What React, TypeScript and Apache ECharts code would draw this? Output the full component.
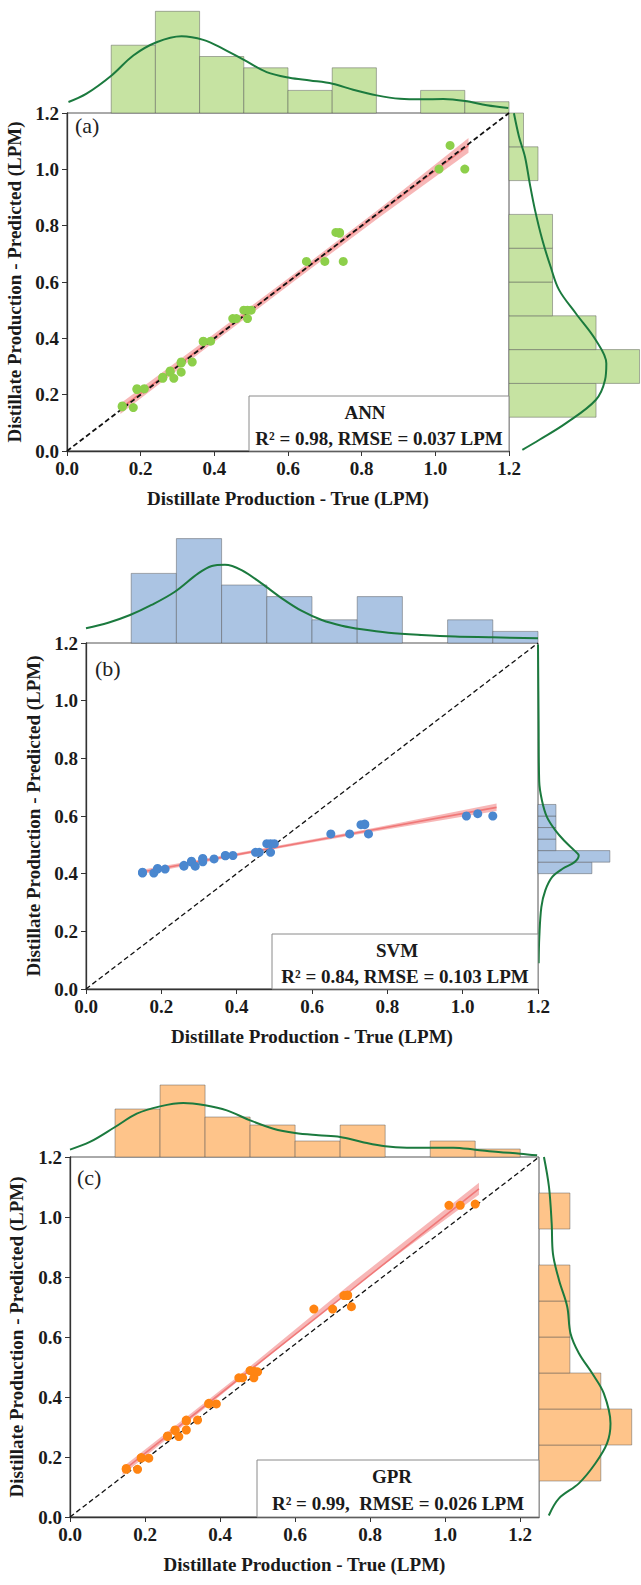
import React, { useEffect, useRef } from "react";
import * as echarts from "echarts";

// ---------- data ----------
const trueVals = [0.15, 0.15, 0.18, 0.19, 0.19, 0.21, 0.26, 0.26, 0.28, 0.28, 0.29, 0.31, 0.31, 0.31, 0.34, 0.37, 0.37, 0.39, 0.45, 0.46, 0.48, 0.49, 0.49, 0.5, 0.65, 0.7, 0.73, 0.74, 0.74, 0.75, 1.01, 1.04, 1.08];
const annPred = [0.157, 0.16, 0.154, 0.221, 0.218, 0.221, 0.258, 0.262, 0.284, 0.28, 0.258, 0.316, 0.28, 0.312, 0.316, 0.39, 0.388, 0.39, 0.47, 0.47, 0.5, 0.47, 0.5, 0.5, 0.673, 0.673, 0.776, 0.776, 0.773, 0.673, 1.001, 1.085, 1.001];
const svmPred = [0.402, 0.405, 0.402, 0.416, 0.418, 0.416, 0.426, 0.429, 0.44, 0.443, 0.426, 0.451, 0.441, 0.453, 0.451, 0.463, 0.462, 0.463, 0.474, 0.474, 0.504, 0.474, 0.504, 0.504, 0.538, 0.538, 0.57, 0.57, 0.572, 0.538, 0.6, 0.608, 0.6];
const gprPred = [0.159, 0.162, 0.159, 0.196, 0.198, 0.196, 0.268, 0.27, 0.29, 0.288, 0.268, 0.323, 0.29, 0.32, 0.323, 0.377, 0.379, 0.377, 0.464, 0.464, 0.488, 0.464, 0.486, 0.484, 0.693, 0.693, 0.738, 0.738, 0.74, 0.701, 1.039, 1.039, 1.043];

const tickVals = [0, 0.2, 0.4, 0.6, 0.8, 1.0, 1.2];

const trueBinEdges = [0.12, 0.24, 0.36, 0.48, 0.6, 0.72, 0.84, 0.96, 1.08, 1.2];
const trueCounts = [6, 9, 5, 4, 2, 4, 0, 2, 1];
const annBinEdges = [0.12, 0.24, 0.36, 0.48, 0.6, 0.72, 0.84, 0.96, 1.08, 1.2];
const annCounts = [6, 9, 6, 3, 3, 3, 0, 2, 1];
const svmBinEdges = [0.4, 0.44, 0.48, 0.52, 0.56, 0.6, 0.64];
const svmCounts = [9, 12, 3, 3, 3, 3];
const gprBinEdges = [0.12, 0.24, 0.36, 0.48, 0.6, 0.72, 0.84, 0.96, 1.08];
const gprCounts = [6, 9, 6, 3, 3, 3, 0, 3];

// density curves (x, height in count units) / (width in count units, y)
const kdeTopA = [[0.004, 0.97], [0.053, 1.71], [0.121, 3.32], [0.18, 5.09], [0.243, 6.26], [0.311, 6.79], [0.37, 6.47], [0.424, 5.68], [0.483, 4.65], [0.542, 3.62], [0.604, 3.12], [0.66, 2.88], [0.721, 2.59], [0.777, 2.06], [0.841, 1.56], [0.904, 1.26], [0.963, 1.21], [1.022, 1.24], [1.081, 1.06], [1.14, 0.68], [1.198, 0.44]];
const kdeRightA = [[0.34, 1.199], [0.69, 1.116], [1.1, 1.045], [1.43, 0.95], [1.79, 0.856], [2.3, 0.749], [2.87, 0.654], [3.45, 0.572], [4.6, 0.489], [5.98, 0.394], [6.71, 0.311], [6.62, 0.252], [5.98, 0.181], [3.91, 0.098], [2.07, 0.039], [0.92, 0.004]];
const kdeTopB = [[0.0, 1.27], [0.059, 1.75], [0.117, 2.41], [0.174, 3.28], [0.236, 4.42], [0.298, 6.0], [0.334, 6.64], [0.369, 6.75], [0.413, 6.29], [0.466, 5.14], [0.52, 3.85], [0.573, 2.76], [0.626, 1.98], [0.679, 1.49], [0.732, 1.18], [0.803, 0.89], [0.891, 0.69], [0.98, 0.55], [1.077, 0.49], [1.2, 0.4]];
const kdeRightB = [[0, 1.195], [0.1, 0.93], [0.2, 0.72], [0.67, 0.653], [1.5, 0.596], [2.9, 0.55], [4.35, 0.515], [6.1, 0.48], [6.8, 0.463], [6.1, 0.44], [4.1, 0.417], [2.35, 0.388], [1.22, 0.342], [0.56, 0.284], [0.22, 0.181], [0.11, 0.089]];
const kdeTopC = [[0.0, 0.92], [0.053, 1.88], [0.12, 3.75], [0.178, 5.42], [0.24, 6.33], [0.302, 6.75], [0.36, 6.46], [0.418, 5.83], [0.48, 4.58], [0.542, 3.54], [0.6, 3.0], [0.662, 2.71], [0.72, 2.5], [0.778, 1.88], [0.84, 1.33], [0.898, 1.17], [0.96, 1.17], [1.022, 1.17], [1.08, 0.92], [1.142, 0.63], [1.2, 0.42], [1.245, 0.21]];
const kdeRightC = [[0.48, 1.2], [0.97, 1.1], [1.23, 0.979], [1.35, 0.879], [1.94, 0.79], [2.74, 0.701], [3.06, 0.612], [3.87, 0.546], [5.16, 0.479], [6.29, 0.412], [6.94, 0.312], [6.61, 0.246], [5.48, 0.179], [3.87, 0.112], [1.94, 0.062], [0.95, 0.005]];

// regression fit lines and confidence bands
const regA = [[0.145, 0.15], [1.09, 1.085]];
const bandXA = [0.145, 0.4, 0.62, 0.85, 1.09];
const bandLoA = [0.131, 0.388, 0.606, 0.832, 1.059];
const bandHiA = [0.169, 0.416, 0.632, 0.862, 1.111];
const regB = [[0.148, 0.406], [1.09, 0.63]];
const bandXB = [0.148, 0.45, 0.75, 1.09];
const bandLoB = [0.398, 0.473, 0.543, 0.617];
const bandHiB = [0.414, 0.483, 0.555, 0.643];
const regC = [[0.14, 0.153], [1.09, 1.094]];
const bandXC = [0.14, 0.45, 0.75, 1.09];
const bandLoC = [0.14, 0.455, 0.761, 1.074];
const bandHiC = [0.166, 0.471, 0.779, 1.114];

const diagAB = [[0, 0], [1.2, 1.2]];
const diagC = [[0, 0], [1.25, 1.2]];

const xTitle = "Distillate Production - True (LPM)";
const yTitle = "Distillate Production - Predicted (LPM)";

// ---------- layout / style ----------
const FONT = "'Liberation Serif','Times New Roman',serif";
const KDE_COLOR = "#1b7a3e";

const panels = [
  {
    tag: "(a)", model: "ANN", stats: "R² = 0.98, RMSE = 0.037 LPM",
    pred: annPred, xMax: 1.2, diag: diagAB, diagW: 1.8, nameGapY: 38,
    main: { left: 67, top: 113, width: 442, height: 338 },
    topH: 113, topMax: 10, rightW: 132, rightMax: 9.1,
    topEdges: trueBinEdges, topCounts: trueCounts, rightEdges: annBinEdges, rightCounts: annCounts,
    kdeTop: kdeTopA, kdeRight: kdeRightA,
    reg: regA, bandX: bandXA, bandLo: bandLoA, bandHi: bandHiA,
    color: "#8dcf4a", fill: "#c6e3a2",
    box: { x: 249, y: 396, w: 260, h: 55 }, modelPos: [365, 412], statsPos: [379, 438], tagPos: [75, 125],
  },
  {
    tag: "(b)", model: "SVM", stats: "R² = 0.84, RMSE = 0.103 LPM",
    pred: svmPred, xMax: 1.2, diag: diagAB, diagW: 1.3, nameGapY: 41,
    main: { left: 86, top: 643, width: 452, height: 346 },
    topH: 116, topMax: 10, rightW: 103, rightMax: 17.2,
    topEdges: trueBinEdges, topCounts: trueCounts, rightEdges: svmBinEdges, rightCounts: svmCounts,
    kdeTop: kdeTopB, kdeRight: kdeRightB,
    reg: regB, bandX: bandXB, bandLo: bandLoB, bandHi: bandHiB,
    color: "#4a87cf", fill: "#abc4e3",
    box: { x: 272, y: 934, w: 266, h: 55 }, modelPos: [397, 950], statsPos: [405, 976], tagPos: [95, 668],
  },
  {
    tag: "(c)", model: "GPR", stats: "R² = 0.99,  RMSE = 0.026 LPM",
    pred: gprPred, xMax: 1.25, diag: diagC, diagW: 1.3, nameGapY: 44,
    main: { left: 70, top: 1157, width: 469, height: 360 },
    topH: 80, topMax: 10, rightW: 102, rightMax: 9.9,
    topEdges: trueBinEdges, topCounts: trueCounts, rightEdges: gprBinEdges, rightCounts: gprCounts,
    kdeTop: kdeTopC, kdeRight: kdeRightC,
    reg: regC, bandX: bandXC, bandLo: bandLoC, bandHi: bandHiC,
    color: "#ff8412", fill: "#fec48a",
    box: { x: 257, y: 1460, w: 282, h: 57 }, modelPos: [392, 1476], statsPos: [398, 1503], tagPos: [77, 1177],
  },
];

function buildOption() {
  const grid: any[] = [];
  const xAxis: any[] = [];
  const yAxis: any[] = [];
  const series: any[] = [];
  const graphic: any[] = [];

  const labelStyle = { fontFamily: FONT, fontWeight: "bold", fontSize: 19, color: "#1a1a1a" };

  panels.forEach((p, i) => {
    const g0 = i * 3;
    const m = p.main;
    grid.push({ left: m.left, top: m.top, width: m.width, height: m.height, show: true, borderColor: "#555", borderWidth: 1, backgroundColor: "transparent", outerBoundsMode: "none" });
    grid.push({ left: m.left, top: m.top - p.topH, width: m.width, height: p.topH, outerBoundsMode: "none" });
    grid.push({ left: m.left + m.width, top: m.top, width: p.rightW, height: m.height, outerBoundsMode: "none" });

    // main axes
    xAxis.push({
      gridIndex: g0, type: "value", min: 0, max: p.xMax, interval: 0.2,
      axisLine: { show: true, onZero: false, lineStyle: { color: "#333", width: 1.3 } },
      axisTick: { show: true, inside: false, length: 5, customValues: tickVals, lineStyle: { color: "#333" } },
      axisLabel: { ...labelStyle, margin: 8, customValues: tickVals, formatter: (v: number) => v.toFixed(1) },
      splitLine: { show: false },
      name: xTitle, nameLocation: "middle", nameGap: 38,
      nameTextStyle: { fontFamily: FONT, fontWeight: "bold", fontSize: 19, color: "#1a1a1a" },
    });
    yAxis.push({
      gridIndex: g0, type: "value", min: 0, max: 1.2, interval: 0.2,
      axisLine: { show: true, onZero: false, lineStyle: { color: "#333", width: 1.3 } },
      axisTick: { show: true, inside: false, length: 5, lineStyle: { color: "#333" } },
      axisLabel: { ...labelStyle, margin: 8, formatter: (v: number) => v.toFixed(1) },
      splitLine: { show: false },
      name: yTitle, nameLocation: "middle", nameGap: p.nameGapY, nameRotate: 90,
      nameTextStyle: { fontFamily: FONT, fontWeight: "bold", fontSize: 19, color: "#1a1a1a" },
    });
    // top marginal
    xAxis.push({ gridIndex: g0 + 1, type: "value", min: 0, max: p.xMax, show: false });
    yAxis.push({ gridIndex: g0 + 1, type: "value", min: 0, max: p.topMax, show: false });
    // right marginal
    xAxis.push({ gridIndex: g0 + 2, type: "value", min: 0, max: p.rightMax, show: false });
    yAxis.push({ gridIndex: g0 + 2, type: "value", min: 0, max: 1.2, show: false });

    const topData = p.topCounts.map((c, k) => [p.topEdges[k], p.topEdges[k + 1], c]).filter((d) => d[2] > 0);
    const rightData = p.rightCounts.map((c, k) => [p.rightEdges[k], p.rightEdges[k + 1], c]).filter((d) => d[2] > 0);

    series.push({
      type: "custom", xAxisIndex: g0 + 1, yAxisIndex: g0 + 1, data: topData, z: 1,
      renderItem: (_params: any, api: any) => {
        const a = api.coord([api.value(0), api.value(2)]);
        const b = api.coord([api.value(1), 0]);
        return { type: "rect", shape: { x: a[0], y: a[1], width: b[0] - a[0], height: b[1] - a[1] }, style: { fill: p.fill, stroke: "rgba(80,80,80,0.45)", lineWidth: 1 } };
      },
    });
    series.push({
      type: "custom", xAxisIndex: g0 + 2, yAxisIndex: g0 + 2, data: rightData, z: 1,
      renderItem: (_params: any, api: any) => {
        const a = api.coord([0, api.value(1)]);
        const b = api.coord([api.value(2), api.value(0)]);
        return { type: "rect", shape: { x: a[0], y: a[1], width: b[0] - a[0], height: b[1] - a[1] }, style: { fill: p.fill, stroke: "rgba(80,80,80,0.45)", lineWidth: 1 } };
      },
    });
    series.push({
      type: "line", xAxisIndex: g0 + 1, yAxisIndex: g0 + 1, data: p.kdeTop, smooth: 0.35, symbol: "none", clip: false, z: 3,
      lineStyle: { color: KDE_COLOR, width: 2 },
    });
    series.push({
      type: "line", xAxisIndex: g0 + 2, yAxisIndex: g0 + 2, data: p.kdeRight, smooth: 0.35, symbol: "none", clip: false, z: 3,
      lineStyle: { color: KDE_COLOR, width: 2 },
    });

    // confidence band
    series.push({
      type: "custom", xAxisIndex: g0, yAxisIndex: g0, data: [[0]], z: 2, clip: false,
      renderItem: (_params: any, api: any) => {
        const up = p.bandX.map((x, k) => api.coord([x, p.bandHi[k]]));
        const lo = p.bandX.map((x, k) => api.coord([x, p.bandLo[k]])).reverse();
        return { type: "polygon", shape: { points: up.concat(lo) }, style: { fill: "rgba(242,135,135,0.6)" } };
      },
    });
    series.push({
      type: "line", xAxisIndex: g0, yAxisIndex: g0, data: p.reg, symbol: "none", z: 3,
      lineStyle: { color: "#f07878", width: 1.6 },
    });
    series.push({
      type: "line", xAxisIndex: g0, yAxisIndex: g0, data: p.diag, symbol: "none", z: 4,
      lineStyle: { color: "#111", width: p.diagW, type: [5, 3] },
    });
    series.push({
      type: "scatter", xAxisIndex: g0, yAxisIndex: g0, z: 5,
      data: trueVals.map((t, k) => [t, p.pred[k]]),
      symbolSize: 9, itemStyle: { color: p.color, opacity: 1 },
    });

    // annotation box & labels
    graphic.push({
      type: "rect", z: 10, shape: { x: p.box.x, y: p.box.y, width: p.box.w, height: p.box.h },
      style: { fill: "#fff", stroke: "#8a8a8a", lineWidth: 1 },
    });
    graphic.push({
      type: "text", z: 11, x: p.modelPos[0], y: p.modelPos[1],
      style: { text: p.model, fontFamily: FONT, fontWeight: "bold", fontSize: 19, fill: "#1a1a1a", align: "center", verticalAlign: "middle" },
    });
    graphic.push({
      type: "text", z: 11, x: p.statsPos[0], y: p.statsPos[1],
      style: { text: p.stats, fontFamily: FONT, fontWeight: "bold", fontSize: 19, fill: "#1a1a1a", align: "center", verticalAlign: "middle" },
    });
    graphic.push({
      type: "text", z: 11, x: p.tagPos[0], y: p.tagPos[1],
      style: { text: p.tag, fontFamily: FONT, fontSize: 22, fill: "#222", align: "left", verticalAlign: "middle" },
    });
  });

  return { animation: false, backgroundColor: "#fff", grid, xAxis, yAxis, series, graphic };
}

export default function App() {
  const ref = useRef<HTMLDivElement>(null);
  useEffect(() => {
    document.body.style.margin = "0";
    if (!ref.current) return;
    const chart = echarts.init(ref.current, null, { renderer: "svg" });
    chart.setOption(buildOption() as any);
    return () => chart.dispose();
  }, []);
  return <div ref={ref} style={{ width: 641, height: 1585 }} />;
}
